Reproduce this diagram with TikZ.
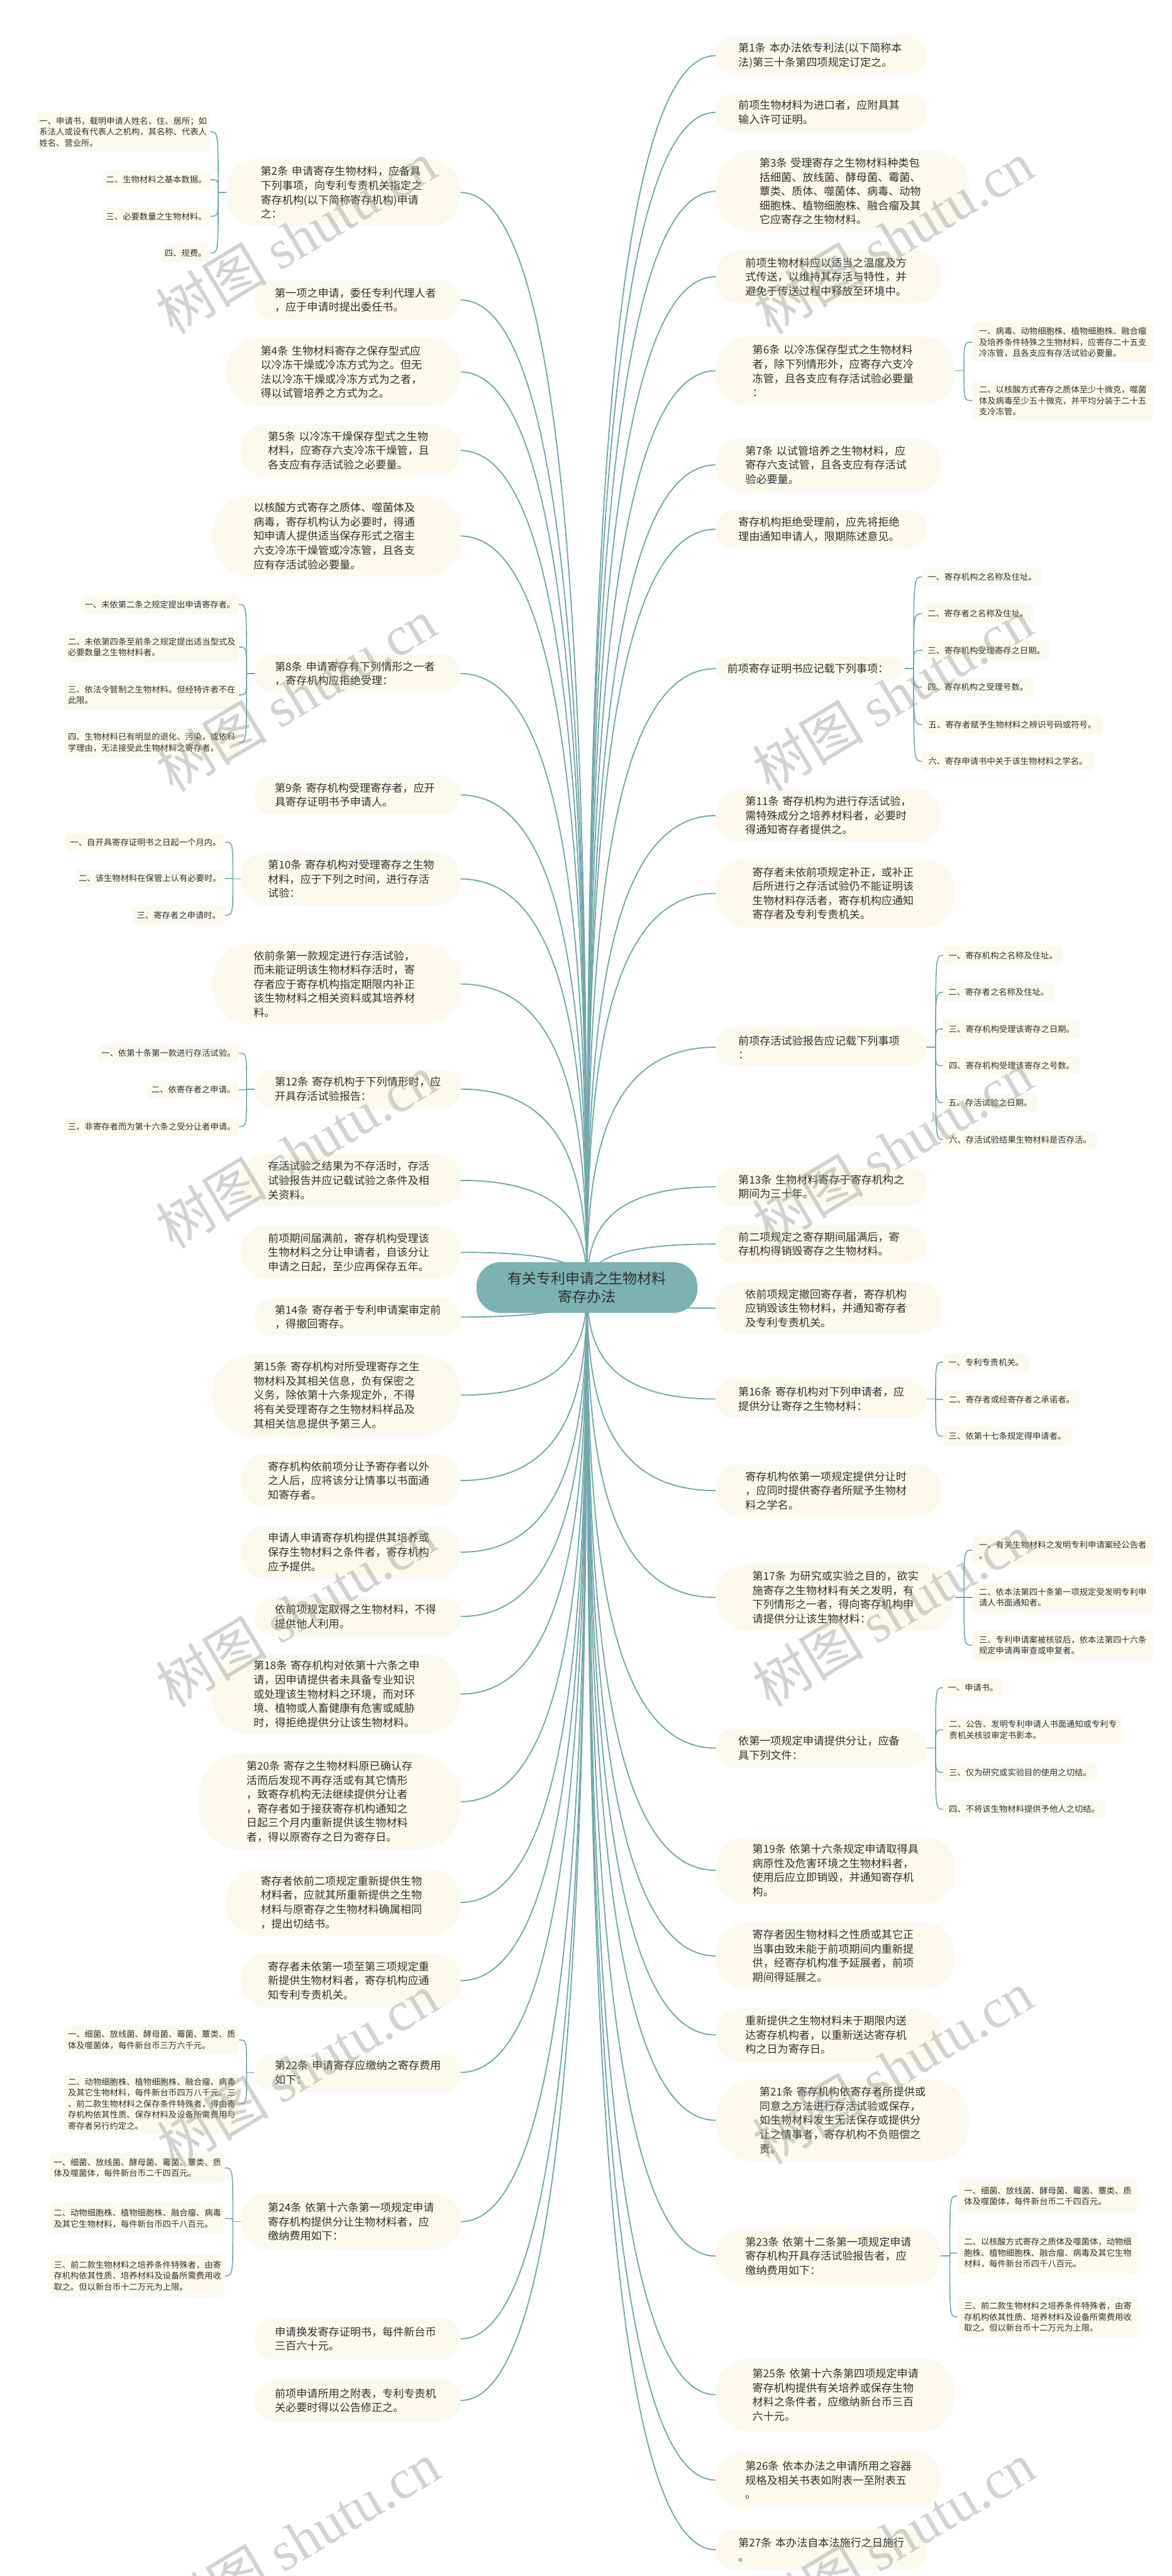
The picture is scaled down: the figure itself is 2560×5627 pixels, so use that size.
\documentclass[tikz,border=0pt]{standalone}
\usepackage{fontspec}
\setmainfont{Noto Sans CJK SC}
\newfontfamily\wmcjk{Noto Sans CJK SC}
\newfontfamily\wmlat{Liberation Serif}
\usetikzlibrary{calc}
\pgfdeclarelayer{bg}
\pgfsetlayers{bg,main}
\definecolor{linec}{RGB}{114,168,170}
\definecolor{centerc}{RGB}{124,178,178}
\definecolor{boxc}{RGB}{252,250,239}
\definecolor{txtc}{RGB}{48,48,48}
\definecolor{wmc}{RGB}{150,150,150}
\tikzset{
  mainbox/.style={fill=boxc,text=txtc,align=left,text width=362pt,inner sep=0pt,
    font={\fontsize{23.5pt}{31pt}\selectfont}},
  leafbox/.style={fill=boxc,text=txtc,align=left,inner sep=0pt,rounded corners=8pt,
    font={\fontsize{18.3pt}{24pt}\selectfont}},
  centerbox/.style={fill=centerc,text=txtc,align=center,inner sep=0pt,
    font={\fontsize{31.5pt}{39pt}\selectfont}},
  conn/.style={draw=linec,line width=2.6pt},
  subconn/.style={draw=linec,line width=2.2pt},
  wmark/.style={text=wmc,opacity=0.42,rotate=31,inner sep=0pt,
    font={\fontsize{122pt}{122pt}\selectfont}}
}
\newcommand\MainNode[6]{%
  \pgfmathsetmacro\mycx{(#2+#4)/2}%
  \pgfmathsetmacro\mycy{(#3+#5)/2}%
  \pgfmathsetmacro\myw{#4-#2}%
  \pgfmathsetmacro\myh{#5-#3}%
  \pgfmathsetmacro\myr{0.45*(#5-#3)}%
  \node[mainbox,minimum width=\myw pt,minimum height=\myh pt,rounded corners=\myr pt] (#1) at (\mycx,\mycy) {#6};%
}
\newcommand\LeafNode[6]{%
  \pgfmathsetmacro\mycx{(#2+#4)/2}%
  \pgfmathsetmacro\mycy{(#3+#5)/2}%
  \pgfmathsetmacro\myw{#4-#2}%
  \pgfmathsetmacro\myh{#5-#3}%
  \node[leafbox,minimum width=\myw pt,minimum height=\myh pt] (#1) at (\mycx,\mycy) {#6};%
}
\newcommand\CEdge[2]{\draw[conn] (#1.#2) .. controls ($(#1.#2)!0.89!(C.center |- #1.#2)$) and ($(C.center)!0.5!(C.center |- #1.#2)$) .. (C.center);}
\newcommand\JL[1]{\coordinate (J#1) at ($(#1.west)+(-18,0)$);\draw[subconn] (#1.west) -- (J#1);}
\newcommand\JR[1]{\coordinate (J#1) at ($(#1.east)+(20,0)$);\draw[subconn] (#1.east) -- (J#1);}
\newcommand\SL[2]{\draw[subconn] (J#1) .. controls (J#1 |- #2.east) .. (#2.east);}
\newcommand\SR[2]{\draw[subconn] (J#1) .. controls (J#1 |- #2.west) .. (#2.west);}
\begin{document}
\begin{tikzpicture}[x=1pt,y=-1pt]
\begin{pgfonlayer}{bg}
\fill[white] (0,0) rectangle (2560,5627);
\end{pgfonlayer}
\useasboundingbox (0,0) rectangle (2560,5627);

% center
\node[centerbox,minimum width=483pt,minimum height=111pt,rounded corners=53pt] (C) at (1282.5,2812.5) {有关专利申请之生物材料\\寄存办法};

% left main nodes
\MainNode{L1}{495}{347}{1006}{494}{第2条~申请寄存生物材料，应备具\\下列事项，向专利专责机关指定之\\寄存机构(以下简称寄存机构)申请\\之：}
\MainNode{L2}{557}{613}{1006}{698}{第一项之申请，委任专利代理人者\\，应于申请时提出委任书。}
\MainNode{L3}{495}{739}{1006}{886}{第4条~生物材料寄存之保存型式应\\以冷冻干燥或冷冻方式为之。但无\\法以冷冻干燥或冷冻方式为之者，\\得以试管培养之方式为之。}
\MainNode{L4}{527}{927}{1006}{1041}{第5条~以冷冻干燥保存型式之生物\\材料，应寄存六支冷冻干燥管，且\\各支应有存活试验之必要量。}
\MainNode{L5}{464}{1082}{1006}{1260}{以核酸方式寄存之质体、噬菌体及\\病毒，寄存机构认为必要时，得通\\知申请人提供适当保存形式之宿主\\六支冷冻干燥管或冷冻管，且各支\\应有存活试验必要量。}
\MainNode{L6}{557}{1429}{1006}{1514}{第8条~申请寄存有下列情形之一者\\，寄存机构应拒绝受理：}
\MainNode{L7}{557}{1694}{1006}{1779}{第9条~寄存机构受理寄存者，应开\\具寄存证明书予申请人。}
\MainNode{L8}{527}{1862}{1006}{1978}{第10条~寄存机构对受理寄存之生物\\材料，应于下列之时间，进行存活\\试验：}
\MainNode{L9}{464}{2061}{1006}{2238}{依前条第一款规定进行存活试验，\\而未能证明该生物材料存活时，寄\\存者应于寄存机构指定期限内补正\\该生物材料之相关资料或其培养材\\料。}
\MainNode{L10}{557}{2336}{1006}{2422}{第12条~寄存机构于下列情形时，应\\开具存活试验报告：}
\MainNode{L11}{527}{2521}{1006}{2636}{存活试验之结果为不存活时，存活\\试验报告并应记载试验之条件及相\\关资料。}
\MainNode{L12}{527}{2678}{1006}{2793}{前项期间届满前，寄存机构受理该\\生物材料之分让申请者，自该分让\\申请之日起，至少应再保存五年。}
\MainNode{L13}{557}{2836}{1006}{2918}{第14条~寄存者于专利申请案审定前\\，得撤回寄存。}
\MainNode{L14}{464}{2959}{1006}{3136}{第15条~寄存机构对所受理寄存之生\\物材料及其相关信息，负有保密之\\义务，除依第十六条规定外，不得\\将有关受理寄存之生物材料样品及\\其相关信息提供予第三人。}
\MainNode{L15}{527}{3176}{1006}{3292}{寄存机构依前项分让予寄存者以外\\之人后，应将该分让情事以书面通\\知寄存者。}
\MainNode{L16}{527}{3332}{1006}{3449}{申请人申请寄存机构提供其培养或\\保存生物材料之条件者，寄存机构\\应予提供。}
\MainNode{L17}{557}{3488}{1006}{3574}{依前项规定取得之生物材料，不得\\提供他人利用。}
\MainNode{L18}{464}{3612}{1006}{3789}{第18条~寄存机构对依第十六条之申\\请，因申请提供者未具备专业知识\\或处理该生物材料之环境，而对环\\境、植物或人畜健康有危害或威胁\\时，得拒绝提供分让该生物材料。}
\MainNode{L19}{433}{3830}{1006}{4041}{第20条~寄存之生物材料原已确认存\\活而后发现不再存活或有其它情形\\，致寄存机构无法继续提供分让者\\，寄存者如于接获寄存机构通知之\\日起三个月内重新提供该生物材料\\者，得以原寄存之日为寄存日。}
\MainNode{L20}{495}{4082}{1006}{4229}{寄存者依前二项规定重新提供生物\\材料者，应就其所重新提供之生物\\材料与原寄存之生物材料确属相同\\，提出切结书。}
\MainNode{L21}{527}{4268}{1006}{4385}{寄存者未依第一项至第三项规定重\\新提供生物材料者，寄存机构应通\\知专利专责机关。}
\MainNode{L22}{557}{4484}{1006}{4570}{第22条~申请寄存应缴纳之寄存费用\\如下：}
\MainNode{L23}{527}{4791}{1006}{4915}{第24条~依第十六条第一项规定申请\\寄存机构提供分让生物材料者，应\\缴纳费用如下：}
\MainNode{L24}{557}{5063}{1006}{5155}{申请换发寄存证明书，每件新台币\\三百六十元。}
\MainNode{L25}{557}{5198}{1006}{5289}{前项申请所用之附表，专利专责机\\关必要时得以公告修正之。}

% right main nodes
\MainNode{R1}{1564}{79}{2024}{164}{第1条~本办法依专利法(以下简称本\\法)第三十条第四项规定订定之。}
\MainNode{R2}{1564}{203}{2024}{288}{前项生物材料为进口者，应附具其\\输入许可证明。}
\MainNode{R3}{1564}{328}{2117}{508}{第3条~受理寄存之生物材料种类包\\括细菌、放线菌、酵母菌、霉菌、\\蕈类、质体、噬菌体、病毒、动物\\细胞株、植物细胞株、融合瘤及其\\它应寄存之生物材料。}
\MainNode{R4}{1564}{547}{2055}{662}{前项生物材料应以适当之温度及方\\式传送，以维持其存活与特性，并\\避免于传送过程中释放至环境中。}
\MainNode{R5}{1564}{736}{2086}{884}{第6条~以冷冻保存型式之生物材料\\者，除下列情形外，应寄存六支冷\\冻管，且各支应有存活试验必要量\\：}
\MainNode{R6}{1564}{957}{2055}{1074}{第7条~以试管培养之生物材料，应\\寄存六支试管，且各支应有存活试\\验必要量。}
\MainNode{R7}{1564}{1114}{2024}{1198}{寄存机构拒绝受理前，应先将拒绝\\理由通知申请人，限期陈述意见。}
\MainNode{R8}{1564}{1435}{1976}{1486}{前项寄存证明书应记载下列事项：}
\MainNode{R9}{1564}{1723}{2055}{1840}{第11条~寄存机构为进行存活试验，\\需特殊成分之培养材料者，必要时\\得通知寄存者提供之。}
\MainNode{R10}{1564}{1877}{2086}{2026}{寄存者未依前项规定补正，或补正\\后所进行之存活试验仍不能证明该\\生物材料存活者，寄存机构应通知\\寄存者及专利专责机关。}
\MainNode{R11}{1564}{2245}{2024}{2330}{前项存活试验报告应记载下列事项\\：}
\MainNode{R12}{1564}{2550}{2024}{2635}{第13条~生物材料寄存于寄存机构之\\期间为三十年。}
\MainNode{R13}{1564}{2676}{2024}{2759}{前二项规定之寄存期间届满后，寄\\存机构得销毁寄存之生物材料。}
\MainNode{R14}{1564}{2800}{2055}{2915}{依前项规定撤回寄存者，寄存机构\\应销毁该生物材料，并通知寄存者\\及专利专责机关。}
\MainNode{R15}{1564}{3014}{2024}{3098}{第16条~寄存机构对下列申请者，应\\提供分让寄存之生物材料：}
\MainNode{R16}{1564}{3198}{2055}{3314}{寄存机构依第一项规定提供分让时\\，应同时提供寄存者所赋予生物材\\料之学名。}
\MainNode{R17}{1564}{3417}{2086}{3562}{第17条~为研究或实验之目的，欲实\\施寄存之生物材料有关之发明，有\\下列情形之一者，得向寄存机构申\\请提供分让该生物材料：}
\MainNode{R18}{1564}{3776}{2024}{3861}{依第一项规定申请提供分让，应备\\具下列文件：}
\MainNode{R19}{1564}{4012}{2086}{4159}{第19条~依第十六条规定申请取得具\\病原性及危害环境之生物材料者，\\使用后应立即销毁，并通知寄存机\\构。}
\MainNode{R20}{1564}{4200}{2086}{4345}{寄存者因生物材料之性质或其它正\\当事由致未能于前项期间内重新提\\供，经寄存机构准予延展者，前项\\期间得延展之。}
\MainNode{R21}{1564}{4387}{2055}{4503}{重新提供之生物材料未于期限内送\\达寄存机构者，以重新送达寄存机\\构之日为寄存日。}
\MainNode{R22}{1564}{4542}{2117}{4721}{第21条~寄存机构依寄存者所提供或\\同意之方法进行存活试验或保存，\\如生物材料发生无法保存或提供分\\让之情事者，寄存机构不负赔偿之\\责。}
\MainNode{R23}{1564}{4865}{2055}{4991}{第23条~依第十二条第一项规定申请\\寄存机构开具存活试验报告者，应\\缴纳费用如下：}
\MainNode{R24}{1564}{5151}{2086}{5311}{第25条~依第十六条第四项规定申请\\寄存机构提供有关培养或保存生物\\材料之条件者，应缴纳新台币三百\\六十元。}
\MainNode{R25}{1564}{5355}{2055}{5480}{第26条~依本办法之申请所用之容器\\规格及相关书表如附表一至附表五\\。}
\MainNode{R26}{1564}{5525}{2024}{5614}{第27条~本办法自本法施行之日施行\\。}

% left leaves
\LeafNode{A1}{79}{245}{459}{331}{一、申请书，载明申请人姓名、住、居所；如\\系法人或设有代表人之机构，其名称、代表人\\姓名、营业所。}
\LeafNode{A2}{224}{373}{459}{412}{二、生物材料之基本数据。}
\LeafNode{A3}{224}{453}{459}{492}{三、必要数量之生物材料。}
\LeafNode{A4}{352}{533}{459}{573}{四、规费。}
\LeafNode{B1}{177}{1300}{522}{1341}{一、未依第二条之规定提出申请寄存者。}
\LeafNode{B2}{141}{1381}{522}{1446}{二、未依第四条至前条之规定提出适当型式及\\必要数量之生物材料者。}
\LeafNode{B3}{141}{1486}{522}{1550}{三、依法令管制之生物材料。但经特许者不在\\此限。}
\LeafNode{B4}{141}{1591}{522}{1653}{四、生物材料已有明显的退化、污染，或依科\\学理由，无法接受此生物材料之寄存者。}
\LeafNode{C1}{145}{1820}{491}{1859}{一、自开具寄存证明书之日起一个月内。}
\LeafNode{C2}{164}{1899}{491}{1939}{二、该生物材料在保管上认有必要时。}
\LeafNode{C3}{290}{1979}{491}{2019}{三、寄存者之申请时。}
\LeafNode{D1}{214}{2281}{522}{2320}{一、依第十条第一款进行存活试验。}
\LeafNode{D2}{323}{2361}{522}{2400}{二、依寄存者之申请。}
\LeafNode{D3}{141}{2441}{522}{2481}{三、非寄存者而为第十六条之受分让者申请。}
\LeafNode{E1}{141}{4424}{522}{4488}{一、细菌、放线菌、酵母菌、霉菌、蕈类、质\\体及噬菌体，每件新台币三万六千元。}
\LeafNode{E2}{141}{4530}{522}{4661}{二、动物细胞株、植物细胞株、融合瘤、病毒\\及其它生物材料，每件新台币四万八千元。三\\、前二款生物材料之保存条件特殊者，得由寄\\存机构依其性质、保存材料及设备所需费用与\\寄存者另行约定之。}
\LeafNode{F1}{110}{4703}{491}{4768}{一、细菌、放线菌、酵母菌、霉菌、蕈类、质\\体及噬菌体，每件新台币二千四百元。}
\LeafNode{F2}{110}{4812}{491}{4880}{二、动物细胞株、植物细胞株、融合瘤、病毒\\及其它生物材料，每件新台币四千八百元。}
\LeafNode{F3}{110}{4925}{491}{5018}{三、前二款生物材料之培养条件特殊者，由寄\\存机构依其性质、培养材料及设备所需费用收\\取之。但以新台币十二万元为上限。}

% right leaves
\LeafNode{G1}{2125}{704}{2519}{791}{一、病毒、动物细胞株、植物细胞株、融合瘤\\及培养条件特殊之生物材料，应寄存二十五支\\冷冻管，且各支应有存活试验必要量。}
\LeafNode{G2}{2125}{832}{2519}{918}{二、以核酸方式寄存之质体至少十微克，噬菌\\体及病毒至少五十微克，并平均分装于二十五\\支冷冻管。}
\LeafNode{H1}{2015}{1240}{2277}{1280}{一、寄存机构之名称及住址。}
\LeafNode{H2}{2015}{1320}{2258}{1361}{二、寄存者之名称及住址。}
\LeafNode{H3}{2015}{1400}{2295}{1441}{三、寄存机构受理寄存之日期。}
\LeafNode{H4}{2015}{1481}{2258}{1521}{四、寄存机构之受理号数。}
\LeafNode{H5}{2015}{1562}{2409}{1603}{五、寄存者赋予生物材料之辨识号码或符号。}
\LeafNode{H6}{2015}{1643}{2389}{1683}{六、寄存申请书中关于该生物材料之学名。}
\LeafNode{I1}{2061}{2067}{2322}{2107}{一、寄存机构之名称及住址。}
\LeafNode{I2}{2061}{2147}{2303}{2188}{二、寄存者之名称及住址。}
\LeafNode{I3}{2061}{2227}{2360}{2268}{三、寄存机构受理该寄存之日期。}
\LeafNode{I4}{2061}{2308}{2360}{2348}{四、寄存机构受理该寄存之号数。}
\LeafNode{I5}{2061}{2388}{2266}{2429}{五、存活试验之日期。}
\LeafNode{I6}{2061}{2470}{2397}{2509}{六、存活试验结果生物材料是否存活。}
\LeafNode{K1}{2061}{2956}{2248}{2995}{一、专利专责机关。}
\LeafNode{K2}{2061}{3037}{2360}{3077}{二、寄存者或经寄存者之承诺者。}
\LeafNode{K3}{2061}{3117}{2341}{3157}{三、依第十七条规定得申请者。}
\LeafNode{N1}{2125}{3354}{2519}{3418}{一、有关生物材料之发明专利申请案经公告者\\。}
\LeafNode{N2}{2125}{3458}{2519}{3521}{二、依本法第四十条第一项规定受发明专利申\\请人书面通知者。}
\LeafNode{N3}{2125}{3562}{2519}{3626}{三、专利申请案被核驳后，依本法第四十六条\\规定申请再审查或申复者。}
\LeafNode{P1}{2061}{3667}{2191}{3706}{一、申请书。}
\LeafNode{P2}{2061}{3747}{2453}{3810}{二、公告、发明专利申请人书面通知或专利专\\责机关核驳审定书影本。}
\LeafNode{P3}{2061}{3852}{2397}{3891}{三、仅为研究或实验目的使用之切结。}
\LeafNode{P4}{2061}{3932}{2415}{3972}{四、不将该生物材料提供予他人之切结。}
\LeafNode{Q1}{2092}{4762}{2487}{4832}{一、细菌、放线菌、酵母菌、霉菌、蕈类、质\\体及噬菌体，每件新台币二千四百元。}
\LeafNode{Q2}{2092}{4874}{2487}{4969}{二、以核酸方式寄存之质体及噬菌体，动物细\\胞株、植物细胞株、融合瘤、病毒及其它生物\\材料，每件新台币四千八百元。}
\LeafNode{Q3}{2092}{5014}{2487}{5108}{三、前二款生物材料之培养条件特殊者，由寄\\存机构依其性质、培养材料及设备所需费用收\\取之。但以新台币十二万元为上限。}

\begin{pgfonlayer}{bg}
\foreach \n in {L1,L2,L3,L4,L5,L6,L7,L8,L9,L10,L11,L12,L13,L14,L15,L16,L17,L18,L19,L20,L21,L22,L23,L24,L25}{\CEdge{\n}{east}}
\foreach \n in {R1,R2,R3,R4,R5,R6,R7,R8,R9,R10,R11,R12,R13,R14,R15,R16,R17,R18,R19,R20,R21,R22,R23,R24,R25,R26}{\CEdge{\n}{west}}
\JL{L1}\SL{L1}{A1}\SL{L1}{A2}\SL{L1}{A3}\SL{L1}{A4}
\JL{L6}\SL{L6}{B1}\SL{L6}{B2}\SL{L6}{B3}\SL{L6}{B4}
\JL{L8}\SL{L8}{C1}\SL{L8}{C2}\SL{L8}{C3}
\JL{L10}\SL{L10}{D1}\SL{L10}{D2}\SL{L10}{D3}
\JL{L22}\SL{L22}{E1}\SL{L22}{E2}
\JL{L23}\SL{L23}{F1}\SL{L23}{F2}\SL{L23}{F3}
\JR{R5}\SR{R5}{G1}\SR{R5}{G2}
\JR{R8}\SR{R8}{H1}\SR{R8}{H2}\SR{R8}{H3}\SR{R8}{H4}\SR{R8}{H5}\SR{R8}{H6}
\JR{R11}\SR{R11}{I1}\SR{R11}{I2}\SR{R11}{I3}\SR{R11}{I4}\SR{R11}{I5}\SR{R11}{I6}
\JR{R15}\SR{R15}{K1}\SR{R15}{K2}\SR{R15}{K3}
\JR{R17}\SR{R17}{N1}\SR{R17}{N2}\SR{R17}{N3}
\JR{R18}\SR{R18}{P1}\SR{R18}{P2}\SR{R18}{P3}\SR{R18}{P4}
\JR{R23}\SR{R23}{Q1}\SR{R23}{Q2}\SR{R23}{Q3}
\end{pgfonlayer}

% watermarks
\foreach \wx/\wy [count=\wi] in {647/518,1952/518,647/1518,1950/1517,647/2515,1950/2508,647/3517,1950/3517,650/4522,1950/4516,655/5545,1955/5545}{
  \node[wmark] (wm\wi) at (\wx,\wy) {{\wmcjk 树图}~{\wmlat shutu.cn}};
}
\end{tikzpicture}
\end{document}
